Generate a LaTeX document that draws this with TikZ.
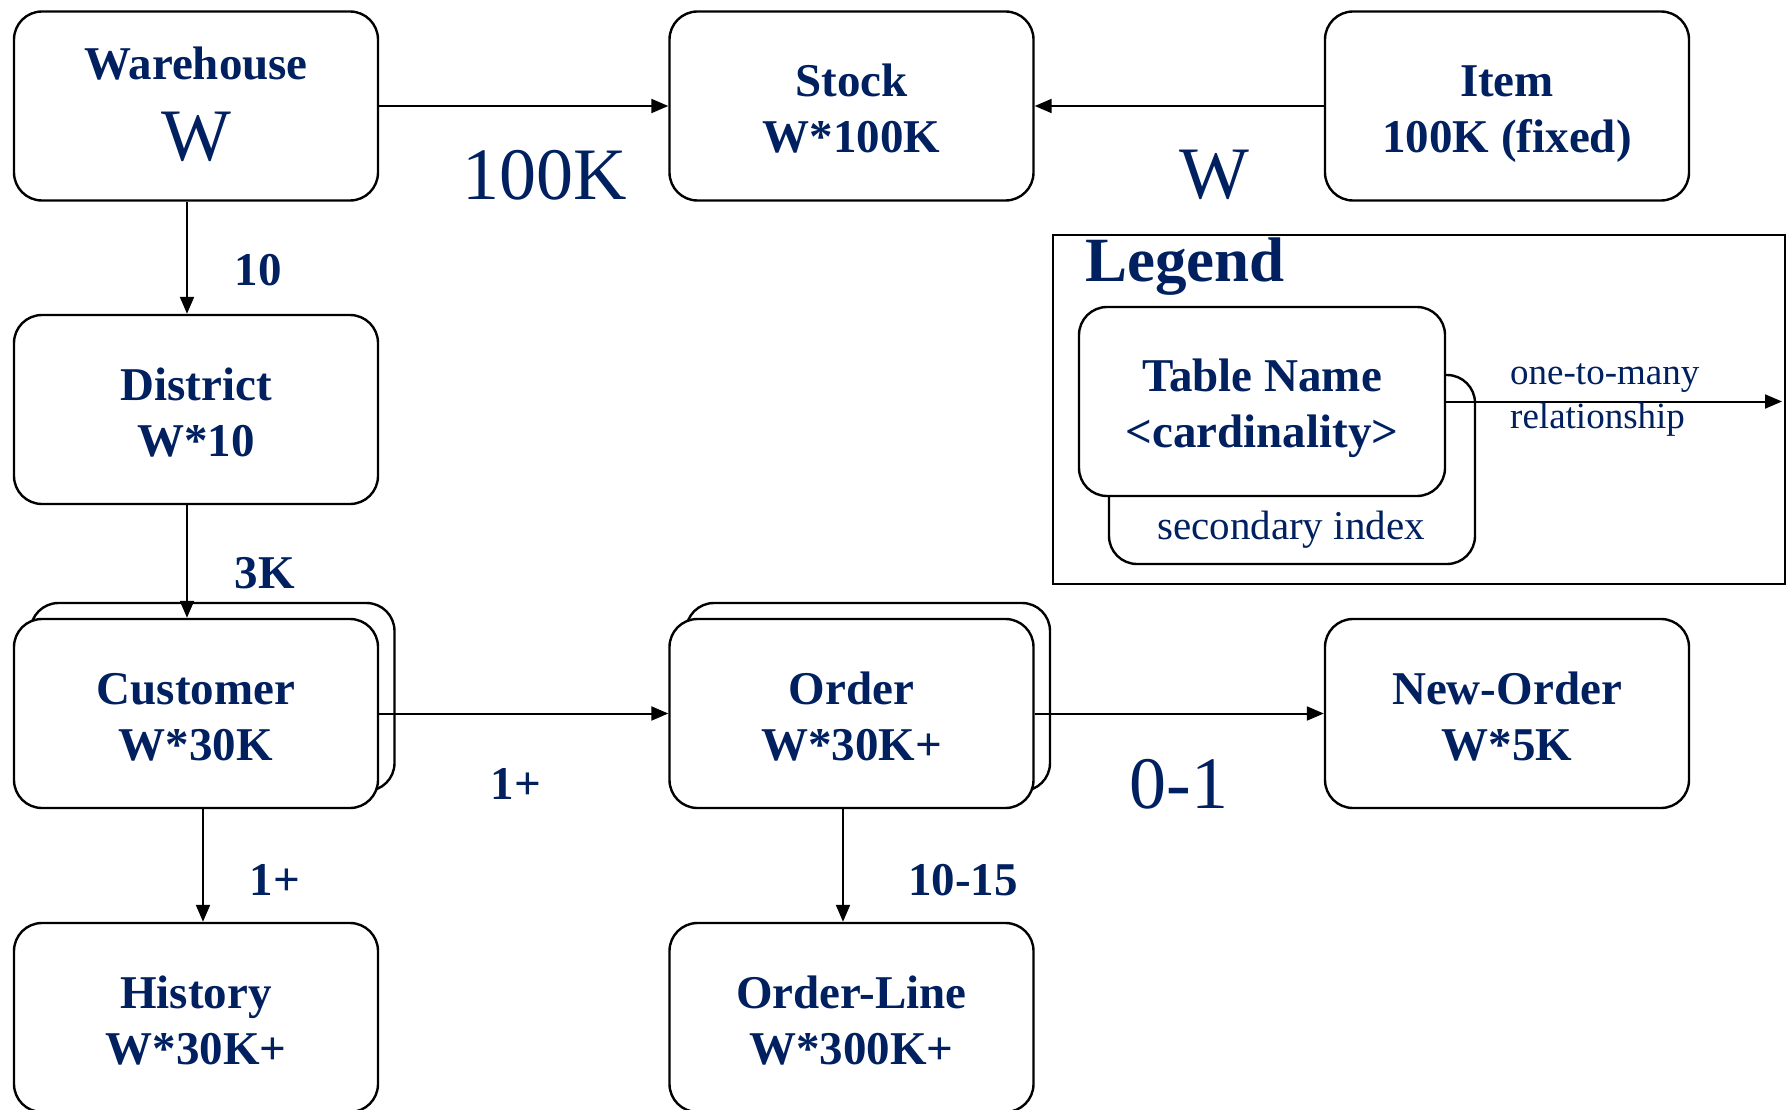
\documentclass[tikz,border=0pt]{standalone}
\usepackage{fontspec}
\setmainfont{Liberation Serif}
\usetikzlibrary{arrows.meta}
\definecolor{navy}{RGB}{0,32,96}
\newcommand\twoline[2]{\rule{0pt}{47pt}#1\\#2\rule[-10pt]{0pt}{0pt}}
\begin{document}
\begin{tikzpicture}[x=1pt,y=-1pt,
 tbl/.style={draw=black, line width=2.4pt, rounded corners=28pt, fill=white, minimum width=364pt, minimum height=189pt, text=navy, font=\fontsize{47}{56}\selectfont\bfseries, align=center, inner sep=0pt},
 backbox/.style={draw=black, line width=2.4pt, rounded corners=28pt, fill=white, minimum width=364pt, minimum height=188pt, inner sep=0pt},
 rel/.style={draw=black, line width=2pt, -{Triangle[length=17pt,width=14pt]}},
 elab/.style={text=navy, font=\fontsize{47}{56}\selectfont\bfseries, inner sep=0pt},
 biglab/.style={text=navy, font=\fontsize{74}{80}\selectfont, inner sep=0pt},
 leglab/.style={text=navy, inner sep=0pt}]
\useasboundingbox (0,0) rectangle (1791,1110);
% main tables
\node[tbl] (wh) at (196,106) {\rule{0pt}{38.5pt}Warehouse\\[25.5pt]{\fontsize{74}{74}\selectfont\mdseries W}\rule[-10pt]{0pt}{0pt}};
\node[tbl] (st) at (851.5,106) {\twoline{Stock}{W*100K}};
\node[tbl] (it) at (1507,106) {\twoline{Item}{100K (fixed)}};
\node[tbl] (di) at (196,409.5) {\twoline{District}{W*10}};
\node[backbox] (cuback) at (212.5,697) {};
\node[tbl] (cu) at (196,713.5) {\twoline{Customer}{W*30K}};
\node[backbox] (orback) at (868,697) {};
\node[tbl] (or) at (851.5,713.5) {\twoline{Order}{W*30K+}};
\node[tbl] (no) at (1507,713.5) {\twoline{New-Order}{W*5K}};
\node[tbl] (hi) at (196,1017.5) {\twoline{History}{W*30K+}};
\node[tbl] (ol) at (851.5,1017.5) {\twoline{Order-Line}{W*300K+}};
% connectors
\draw[rel] (wh.east) -- (st.west);
\draw[rel] (it.west) -- (st.east);
\draw[rel] ([xshift=-9pt]wh.south) -- ([xshift=-9pt]di.north);
\draw[rel] ([xshift=-9pt]di.south) -- ([xshift=-9pt]cu.north);
\draw[rel] (cu.east) -- (or.west);
\draw[rel] (or.east) -- (no.west);
\draw[rel] ([xshift=7pt]cu.south) -- ([xshift=7pt]hi.north);
\draw[rel] ([xshift=-8.5pt]or.south) -- ([xshift=-8.5pt]ol.north);
% connector labels
\node[biglab] (l100k) at (545,175) {100K};
\node[biglab] (lw) at (1214,175) {W};
\node[elab] (l10) at (258,270) {10};
\node[elab] (l3k) at (265,573) {3K};
\node[elab] (l1a) at (516,784) {1+};
\node[biglab] (l01) at (1179,784) {0-1};
\node[elab] (l1b) at (275,880) {1+};
\node[elab] (l1015) at (963,880) {10-15};
% legend
\node[draw=black, line width=2pt, minimum width=732pt, minimum height=349pt, inner sep=0pt] (legend) at (1419,409.5) {};
\node[leglab, font=\fontsize{63}{63}\selectfont\bfseries, anchor=west] (legtitle) at (1085,267) {Legend};
\node[backbox, minimum width=366pt, minimum height=189pt] (secbox) at (1292,469.5) {};
\node[leglab, font=\fontsize{41}{41}\selectfont] (sectext) at (1291,530) {secondary index};
\node[tbl, minimum width=366pt] (tn) at (1262,401.5) {\twoline{Table Name}{{<}cardinality{>}}};
\coordinate (legend-end) at (1782,401.5);
\draw[rel] (tn.east) -- (legend-end);
\node[leglab, font=\fontsize{37}{44}\selectfont, align=left, anchor=west] (reltext) at (1510,400) {one-to-many\\relationship};
\end{tikzpicture}
\end{document}
